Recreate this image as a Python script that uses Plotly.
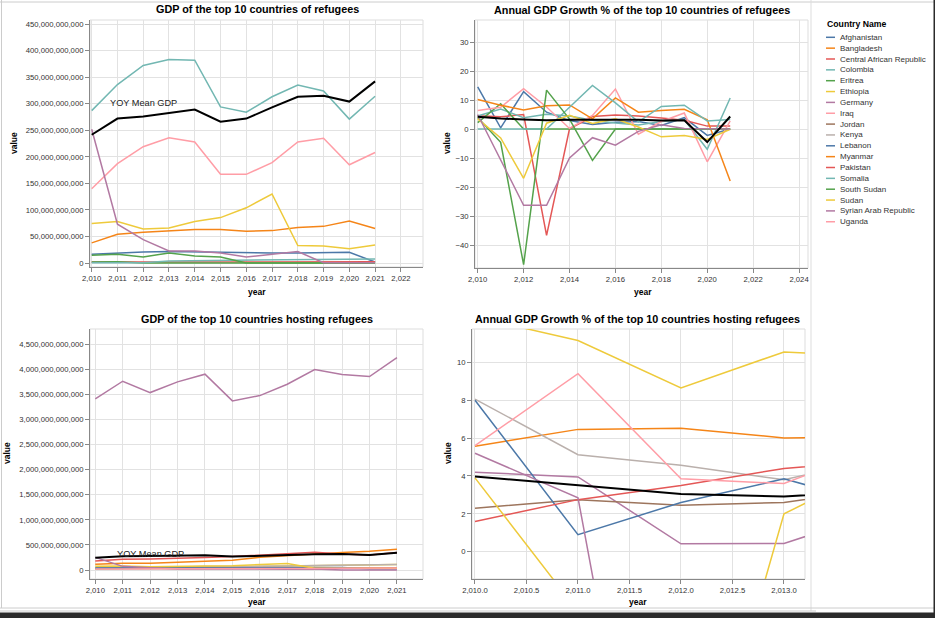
import plotly.graph_objects as go

W, H = 935, 618

years = list(range(2010, 2022))
years_hosting_growth = [2010, 2011, 2012, 2013, 2014]

# legend order (alphabetical colour domain)
countries = [
    "Afghanistan", "Bangladesh", "Central African Republic", "Colombia", "Eritrea",
    "Ethiopia", "Germany", "Iraq", "Jordan", "Kenya", "Lebanon", "Myanmar",
    "Pakistan", "Somalia", "South Sudan", "Sudan", "Syrian Arab Republic", "Uganda",
]
palette = ["#4c78a8", "#f58518", "#e45756", "#72b7b2", "#54a24b",
           "#eeca3b", "#b279a2", "#ff9da6", "#9d755d", "#bab0ac"]
color_of = {c: palette[i % 10] for i, c in enumerate(countries)}

# GDP of origin countries, billions of US$
origin_gdp = {
    "Afghanistan": [16.4, 19.0, 20.8, 21.5, 20.8, 19.6, 19.0, 19.0, 19.0, 19.0, 20.2, 1.9],
    "Central African Republic": [2.1, 2.3, 2.2, 1.5, 1.7, 1.7, 1.8, 2.1, 2.2, 2.2, 2.3, 2.5],
    "Colombia": [287, 336, 372, 383, 382, 294, 284, 313, 335, 324, 271, 314],
    "Eritrea": [2.1, 2.6, 0, 0, 0, 0, 0, 0, 0, 0, 0, 0],
    "Iraq": [140, 187, 219, 236, 228, 167, 167, 189, 228, 235, 185, 208],
    "Myanmar": [38, 54, 58, 60, 63, 63, 60, 61, 67, 69, 79, 65],
    "Somalia": [0.6, 0.6, 0.6, 4.0, 4.5, 4.9, 5.3, 5.6, 6.0, 6.5, 6.9, 7.6],
    "South Sudan": [14.5, 16.4, 11.4, 19.0, 13.3, 11.4, 0, 0, 0, 0, 0, 0],
    "Sudan": [74.5, 78, 64, 66, 78, 85.5, 104, 130, 33, 32, 27, 34],
    "Syrian Arab Republic": [252, 73, 44, 22.7, 22.7, 19, 11.4, 16.4, 21.5, 0.6, 0.6, 0.6],
}
origin_gdp_mean = [241.5, 272, 276, 282, 289, 266, 272, 293, 313, 315, 304, 342]

# annual GDP growth % of origin countries
origin_growth = {
    "Afghanistan": [14.5, 0.4, 12.9, 5.8, 2.9, 1.6, 2.3, 2.6, 1.2, 3.9, -2.2, 0],
    "Central African Republic": [4.6, 4.2, 5.0, -36.7, 0.1, 4.3, 4.8, 4.5, 3.8, 3.0, 1.0, 1.0],
    "Colombia": [4.5, 6.9, 3.9, 5.1, 4.5, 3.0, 2.1, 1.4, 2.6, 3.2, -7.0, 10.7],
    "Eritrea": [2.2, 8.7, 0, 0, 0, 0, 0, 0, 0, 0, 0, 0],
    "Iraq": [6.4, 7.5, 13.9, 7.6, 0.2, 4.7, 13.8, -1.8, 2.6, 5.5, -11.3, 2.8],
    "Myanmar": [10.2, 8.2, 6.6, 8.0, 8.3, 3.5, 10.7, 5.8, 6.4, 6.8, 3.2, -17.9],
    "Somalia": [0, 0, 0, 0, 7.5, 15.0, 9.0, 2.5, 7.8, 8.2, 2.8, 3.3],
    "South Sudan": [4.0, -4.6, -46.8, 13.4, 3.4, -10.8, 0, 0, 0, 0, 0, 0],
    "Sudan": [3.5, -3.1, -17.0, 2.0, 4.7, 1.9, 3.5, 0.7, -2.7, -2.2, -3.6, -0.1],
    "Syrian Arab Republic": [5.0, -10.6, -26.3, -26.3, -10.0, -3.0, -5.6, -0.8, 1.5, 0.2, 0, 0],
}
origin_growth_mean = [4.2, 3.6, 3.3, 3.0, 3.2, 3.1, 3.2, 3.2, 2.9, 3.0, -4.5, 4.3]

# GDP of hosting countries, billions of US$
hosting_gdp = {
    "Bangladesh": [115, 133, 133, 153, 173, 195, 253, 287, 320, 351, 374, 416],
    "Ethiopia": [30, 32, 43, 47, 56, 65, 74, 81, 84, 96, 107, 111],
    "Germany": [3411, 3763, 3537, 3750, 3903, 3371, 3477, 3703, 3996, 3896, 3856, 4235],
    "Jordan": [27, 29, 31, 34, 36, 38, 39, 41, 43, 44, 44, 45],
    "Kenya": [45, 46, 56, 61, 68, 70, 74, 82, 92, 100, 100, 110],
    "Lebanon": [38, 40, 44, 46, 48, 50, 51, 53, 55, 52, 25, 23],
    "Pakistan": [180, 213, 222, 233, 250, 270, 300, 333, 353, 320, 300, 347],
    "Sudan": [74.5, 78, 64, 66, 78, 85.5, 104, 130, 33, 32, 27, 34],
    "Syrian Arab Republic": [252, 73, 44, 22.7, 22.7, 19, 11.4, 16.4, 21.5, 0.6, 0.6, 0.6],
    "Uganda": [20, 20, 23, 25, 27, 27, 26, 28, 31, 35, 38, 40],
}
hosting_gdp_mean = [245, 275, 280, 290, 293, 268, 285, 300, 315, 318, 300, 345]

# annual GDP growth % of hosting countries (only 2010-2014 are in view)
hosting_growth = {
    "Bangladesh": [5.57, 6.46, 6.52, 6.01, 6.06],
    "Ethiopia": [12.4, 11.15, 8.65, 10.55, 10.3],
    "Germany": [4.2, 3.95, 0.42, 0.44, 2.2],
    "Jordan": [2.3, 2.75, 2.45, 2.6, 3.4],
    "Kenya": [8.06, 5.12, 4.57, 3.8, 5.05],
    "Lebanon": [8.0, 0.9, 2.6, 3.85, 2.35],
    "Pakistan": [1.6, 2.75, 3.5, 4.4, 4.8],
    "Sudan": [3.9, -3.15, -17.0, 2.0, 4.7],
    "Syrian Arab Republic": [5.2, 2.85, -26.3, -26.3, -10.0],
    "Uganda": [5.6, 9.4, 3.85, 3.6, 5.7],
}
hosting_growth_mean = [3.97, 3.5, 3.05, 2.92, 3.2]

titles = [
    "GDP of the top 10 countries of refugees",
    "Annual GDP Growth % of the top 10 countries of refugees",
    "GDP of the top 10 countries hosting refugees",
    "Annual GDP Growth % of the top 10 countries hosting refugees",
]

FONT = "Liberation Sans, Arial, Helvetica, sans-serif"


def px_x(p):
    return p / W


def px_y(p):
    return 1 - p / H


fig = go.Figure()


def add_lines(xa, ya, x, data, mean, scale=1.0):
    for c in countries:
        if c not in data:
            continue
        fig.add_trace(go.Scatter(
            x=x, y=[v * scale for v in data[c]], mode="lines",
            line=dict(color=color_of[c], width=1.5),
            xaxis=xa, yaxis=ya, showlegend=False, name=c,
        ))
    fig.add_trace(go.Scatter(
        x=x, y=[v * scale for v in mean], mode="lines",
        line=dict(color="black", width=2),
        xaxis=xa, yaxis=ya, showlegend=False, name="YOY Mean",
    ))


add_lines("x", "y", years, origin_gdp, origin_gdp_mean, 1e9)
add_lines("x2", "y2", years, origin_growth, origin_growth_mean)
add_lines("x3", "y3", years, hosting_gdp, hosting_gdp_mean, 1e9)
add_lines("x4", "y4", years_hosting_growth, hosting_growth, hosting_growth_mean)

tickfont = dict(family=FONT, size=7.7, color="#333")
axis_common = dict(
    showline=True, linecolor="#888", linewidth=1,
    ticks="outside", ticklen=4, tickcolor="#888",
    showgrid=True, gridcolor="#e2e2e2", gridwidth=1,
    zeroline=False, tickfont=tickfont, automargin=False,
)

# panel geometry in pixels: (x0, x1, y0, y1), axis ranges, ticks
panels = [
    dict(box=(90, 423, 20, 267), xr=[2009.934, 2022.86], yr=[-7.5e9, 457.6e9],
         xdt=1, xfmt=",.0f", ydt=5e10, yfmt=",.0f"),
    dict(box=(475, 808, 20, 268), xr=[2009.882, 2024.39], yr=[-47.93, 37.59],
         xdt=2, xfmt=",.0f", ydt=10, yfmt=",.0f"),
    dict(box=(90, 423, 329, 579), xr=[2009.807, 2021.95], yr=[-179e9, 4804e9],
         xdt=1, xfmt=",.0f", ydt=5e11, yfmt=",.0f"),
    dict(box=(472, 805, 329, 579), xr=[2009.971, 2013.204], yr=[-1.44, 11.76],
         xdt=0.5, xfmt=",.1f", ydt=2, yfmt=",.0f"),
]

layout = dict(
    width=W, height=H, margin=dict(l=0, r=0, t=0, b=0, autoexpand=False),
    paper_bgcolor="white", plot_bgcolor="white", showlegend=False,
    font=dict(family=FONT),
)
annotations = []
shapes = []
for i, p in enumerate(panels):
    s = "" if i == 0 else str(i + 1)
    x0, x1, y0, y1 = p["box"]
    layout["xaxis" + s] = dict(
        axis_common, domain=[px_x(x0), px_x(x1)], range=p["xr"],
        anchor="y" + s, tick0=2010, dtick=p["xdt"], tickformat=p["xfmt"],
    )
    layout["yaxis" + s] = dict(
        axis_common, domain=[px_y(y1), px_y(y0)], range=p["yr"],
        anchor="x" + s, tick0=0, dtick=p["ydt"], tickformat=p["yfmt"],
    )
    # light view frame
    shapes.append(dict(type="rect", xref="x" + s + " domain", yref="y" + s + " domain",
                       x0=0, x1=1, y0=0, y1=1, line=dict(color="#dddddd", width=1),
                       layer="below"))


def label(text, cx, cy, size, color="black", angle=0, xanchor="center", **kw):
    return dict(text=text, x=px_x(cx), y=px_y(cy), xref="paper", yref="paper",
                xanchor=xanchor, yanchor="middle", textangle=angle, showarrow=False,
                font=dict(size=size, color=color, family=FONT), **kw)


# titles and axis titles
title_pos = [(257, 9.5), (642, 10), (257, 319), (637, 319)]
for t, (cx, cy) in zip(titles, title_pos):
    annotations.append(label("<b>%s</b>" % t, cx, cy, 10.8))
for cx, cy in [(14, 143), (447, 143), (7, 453), (448, 453)]:
    annotations.append(label("<b>value</b>", cx, cy, 8.5, angle=-90))
for cx, cy in [(257, 292), (643, 292), (257, 602), (638, 602)]:
    annotations.append(label("<b>year</b>", cx, cy, 8.5))

# "YOY Mean GDP" labels
annotations.append(dict(text="YOY Mean GDP", x=2012, y=301e9, xref="x", yref="y",
                        xanchor="center", yanchor="middle", showarrow=False,
                        font=dict(size=9.2, color="#222", family=FONT)))
annotations.append(dict(text="YOY Mean GDP", x=2012, y=320e9, xref="x3", yref="y3",
                        xanchor="center", yanchor="middle", showarrow=False,
                        font=dict(size=9.2, color="#222", family=FONT)))

# legend drawn by hand
annotations.append(label("<b>Country Name</b>", 825, 23.5, 8.7, xanchor="left"))
for i, c in enumerate(countries):
    yy = 37.3 + i * 10.85
    shapes.append(dict(type="line", xref="paper", yref="paper",
                       x0=px_x(826), x1=px_x(835), y0=px_y(yy), y1=px_y(yy),
                       line=dict(color=color_of[c], width=1.5)))
    annotations.append(label(c, 838, yy, 8, color="#333", xanchor="left"))

# page frame around the output cell
frame = dict(xref="paper", yref="paper", layer="above")
shapes += [
    dict(frame, type="line", x0=0, x1=1, y0=px_y(2), y1=px_y(2), line=dict(color="#cccccc", width=1)),
    dict(frame, type="line", x0=px_x(1.5), x1=px_x(1.5), y0=px_y(0), y1=px_y(608), line=dict(color="#cccccc", width=1)),
    dict(frame, type="line", x0=px_x(811), x1=px_x(811), y0=px_y(0), y1=px_y(611), line=dict(color="#dddddd", width=1)),
    dict(frame, type="line", x0=0, x1=1, y0=px_y(608), y1=px_y(608), line=dict(color="#cccccc", width=1)),
    dict(frame, type="line", x0=0, x1=px_x(816), y0=px_y(611), y1=px_y(611), line=dict(color="#cccccc", width=1)),
    dict(frame, type="rect", x0=0, x1=1, y0=0, y1=px_y(612.5), fillcolor="#2b2b2b", line=dict(width=0)),
    dict(frame, type="rect", x0=px_x(933.5), x1=1, y0=0, y1=1, fillcolor="#2b2b2b", line=dict(width=0)),
]

layout["annotations"] = annotations
layout["shapes"] = shapes
fig.update_layout(**layout)

# drop the default page margin so the figure sits at the window's corner
fig.write_html("out.html", config={"displayModeBar": False},
               post_script="document.body.style.margin='0';document.body.style.overflow='hidden';")
